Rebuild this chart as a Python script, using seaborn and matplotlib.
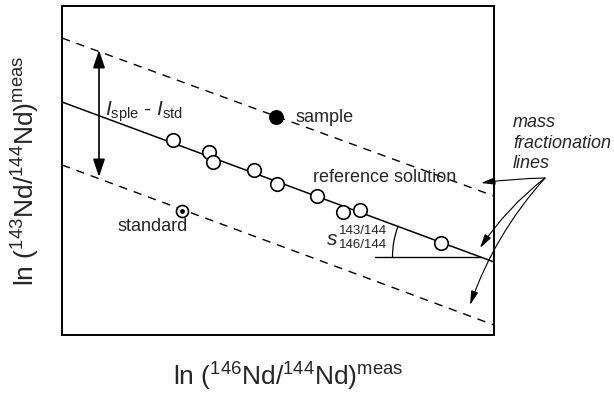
import numpy as np
import pandas as pd
import matplotlib
matplotlib.use("Agg")
import matplotlib.pyplot as plt
import seaborn as sns
from matplotlib.patches import Arc

sns.set_theme(style="white")
plt.rcParams['font.family'] = ['Liberation Sans', 'DejaVu Sans']
plt.rcParams['mathtext.fontset'] = 'custom'
plt.rcParams['mathtext.rm'] = 'Liberation Sans'
plt.rcParams['mathtext.it'] = 'Liberation Sans:italic'
plt.rcParams['mathtext.bf'] = 'Liberation Sans:bold'

# ---- data (arbitrary units) ----
ref_x = [111, 147, 151, 192, 215, 255, 281, 298, 379]
ref_y = [195, 183, 173, 165, 151, 139, 123, 125, 92]
sample_x = [214]
sample_y = [218]
standard_x = [120]
standard_y = [124]
line_x = [0, 432]
ref_line_y = [233, 73]
upper_line_y = [297, 139]
lower_line_y = [170, 10]

xlabel = r'ln ($^{146}$Nd/$^{144}$Nd)$^{\mathrm{meas}}$'
ylabel = r'ln ($^{143}$Nd/$^{144}$Nd)$^{\mathrm{meas}}$'

W, H = 614, 394
fig = plt.figure(figsize=(W / 100, H / 100), dpi=100)
ax = fig.add_axes([62 / W, 1 - 335 / H, 432 / W, 329 / H])

lines = pd.DataFrame({
    'x': line_x * 3,
    'y': ref_line_y + upper_line_y + lower_line_y,
    'kind': ['ref'] * 2 + ['upper'] * 2 + ['lower'] * 2,
})
sns.lineplot(data=lines[lines.kind == 'ref'], x='x', y='y', color='black',
             lw=1.1, ax=ax, legend=False)
for k in ['upper', 'lower']:
    sns.lineplot(data=lines[lines.kind == k], x='x', y='y', color='black',
                 lw=1.0, ax=ax, legend=False, dashes=False)
    ax.lines[-1].set_dashes((6, 5))

sns.scatterplot(x=ref_x, y=ref_y, s=95, facecolor='white', edgecolor='black',
                linewidth=1.2, ax=ax, zorder=5)
sns.scatterplot(x=sample_x, y=sample_y, s=95, color='black', edgecolor='black',
                linewidth=1.0, ax=ax, zorder=5)
sns.scatterplot(x=standard_x, y=standard_y, s=75, facecolor='white',
                edgecolor='black', linewidth=1.2, ax=ax, zorder=5)
sns.scatterplot(x=standard_x, y=standard_y, s=12, color='black',
                edgecolor='black', linewidth=0, ax=ax, zorder=6)

ax.set_xlim(0, 432)
ax.set_ylim(0, 329)
ax.set_xticks([])
ax.set_yticks([])
for sp in ax.spines.values():
    sp.set_visible(True)
    sp.set_color('black')
    sp.set_linewidth(1.4)

ax.set_xlabel(xlabel, fontsize=19, va='center')
ax.xaxis.set_label_coords(0.523, -0.127)
ax.set_ylabel(ylabel, fontsize=19, va='center')
ax.yaxis.set_label_coords(-0.083, 0.50)

fs = 13
ax.text(234, 218, 'sample', fontsize=fs, va='center', ha='left')
ax.text(251, 158, 'reference solution', fontsize=fs, va='center', ha='left')
ax.text(55, 109, 'standard', fontsize=fs, va='center', ha='left')
ax.text(43, 223, r'$I_{\mathrm{sple}}$ - $I_{\mathrm{std}}$', fontsize=15,
        va='center', ha='left')
ax.text(265, 96, 's', fontsize=15, style='italic', va='center', ha='left')
ax.text(277, 104, '143/144', fontsize=9.5, va='center', ha='left')
ax.text(277, 90, '146/144', fontsize=9.5, va='center', ha='left')
ax.text(451, 192, 'mass\nfractionation\nlines', fontsize=fs, style='italic',
        va='center', ha='left', linespacing=1.25, clip_on=False)

# double-headed arrow
ax.annotate('', xy=(37, 285), xytext=(37, 158),
            arrowprops=dict(arrowstyle='<|-|>,head_length=0.9,head_width=0.3',
                            color='black', lw=1.2, shrinkA=0, shrinkB=0))

# angle
slope = (ref_line_y[1] - ref_line_y[0]) / (line_x[1] - line_x[0])
hy = 78
cx = (hy - ref_line_y[0]) / slope
ax.plot([313, cx], [hy, hy], color='black', lw=1.0)
ang = np.degrees(np.arctan(-slope))
ax.add_patch(Arc((cx, hy), 2 * 88, 2 * 88, theta1=180 - ang, theta2=180,
                 color='black', lw=0.9))

# fractionation arrows
src = (483, 157)
for tgt, rad in [((419, 152), 0.03), ((418, 87), 0.08), ((408, 30), 0.1)]:
    ax.annotate('', xy=tgt, xytext=src, annotation_clip=False,
                arrowprops=dict(arrowstyle='-|>,head_length=0.7,head_width=0.18',
                                color='black', lw=0.8, shrinkA=0, shrinkB=0,
                                connectionstyle=f'arc3,rad={rad}'))

fig.savefig('out.png', dpi=100)
